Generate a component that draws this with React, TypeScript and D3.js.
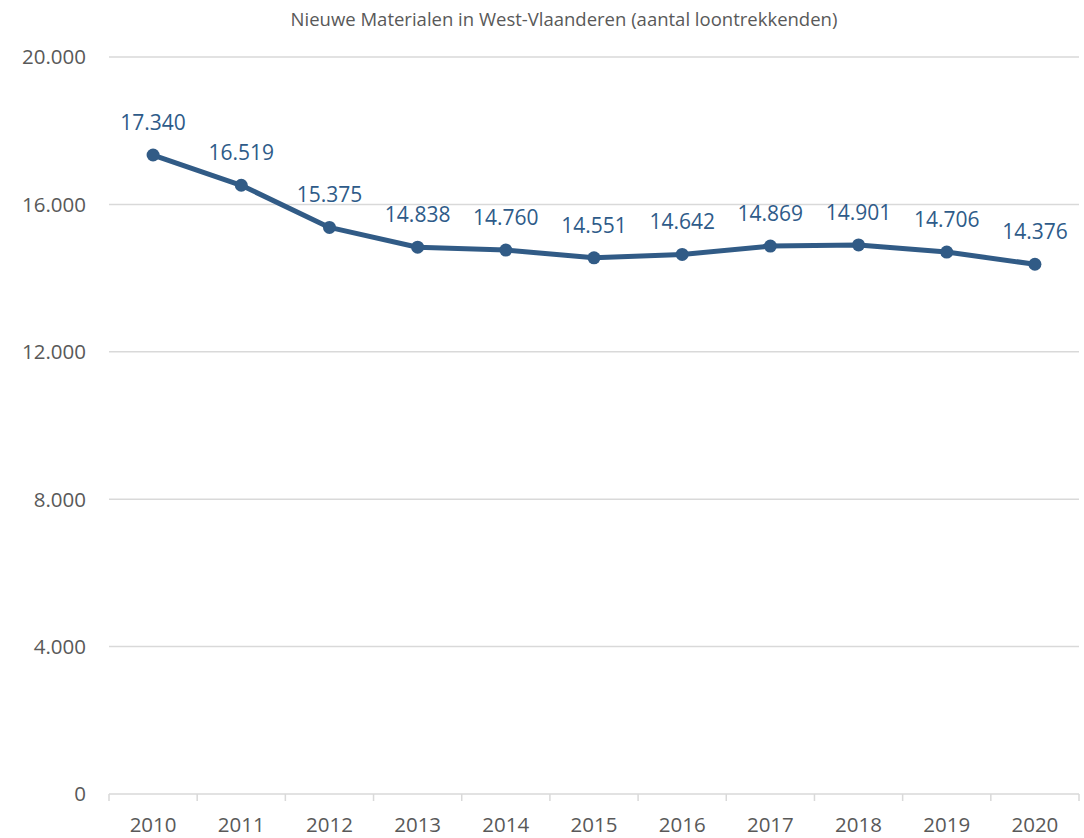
import React from 'react';
import * as d3 from 'd3';

const title = 'Nieuwe Materialen in West-Vlaanderen (aantal loontrekkenden)';
const years = ['2010', '2011', '2012', '2013', '2014', '2015', '2016', '2017', '2018', '2019', '2020'];
const employees = [17340, 16519, 15375, 14838, 14760, 14551, 14642, 14869, 14901, 14706, 14376];
const yTicks = [0, 4000, 8000, 12000, 16000, 20000];

const fmt = (v: number) => d3.format(',')(v).replace(/,/g, '.');

export default function App() {
  const width = 1084;
  const height = 838;
  const margin = { top: 57, right: 5, bottom: 44, left: 109 };
  const font = '"Open Sans", sans-serif';
  const lineColor = '#315b86';

  const x = d3.scaleBand().domain(years).range([margin.left, width - margin.right]);
  const y = d3.scaleLinear().domain([0, 20000]).range([height - margin.bottom, margin.top]);

  const cx = (d: string) => (x(d) as number) + x.bandwidth() / 2;

  const line = d3.line<number>()
    .x((_, i) => cx(years[i]))
    .y(d => y(d));

  return (
    <svg width={width} height={height} style={{ position: 'absolute', left: 0, top: 0 }}>
      <rect width={width} height={height} fill="#fff" />
      <text x={564} y={26} textAnchor="middle" fontFamily={font} fontSize={18.5} fill="#595959">{title}</text>

      {yTicks.map(t => (
        <g key={t}>
          {t > 0 && <line x1={margin.left} x2={width - margin.right} y1={y(t)} y2={y(t)} stroke="#d9d9d9" strokeWidth={1.5} />}
          <text x={86} y={y(t)} dy="0.36em" textAnchor="end" fontFamily={font} fontSize={20.5} fill="#595959">{fmt(t)}</text>
        </g>
      ))}

      <line x1={margin.left} x2={width - margin.right} y1={y(0)} y2={y(0)} stroke="#d9d9d9" strokeWidth={1.5} />
      {years.map(d => (
        <line key={'t' + d} x1={x(d)} x2={x(d)} y1={y(0)} y2={y(0) + 7} stroke="#d9d9d9" strokeWidth={1.5} />
      ))}
      <line x1={width - margin.right} x2={width - margin.right} y1={y(0)} y2={y(0) + 7} stroke="#d9d9d9" strokeWidth={1.5} />
      {years.map(d => (
        <text key={'l' + d} x={cx(d)} y={832} textAnchor="middle" fontFamily={font} fontSize={20.5} fill="#595959">{d}</text>
      ))}

      <path d={line(employees) || ''} fill="none" stroke={lineColor} strokeWidth={5} strokeLinejoin="round" />
      {employees.map((v, i) => (
        <g key={'p' + i}>
          <circle cx={cx(years[i])} cy={y(v)} r={6.5} fill={lineColor} />
          <text x={cx(years[i])} y={y(v) - 25} textAnchor="middle" fontFamily={font} fontSize={21} fill="#2e5b89">{fmt(v)}</text>
        </g>
      ))}
    </svg>
  );
}
